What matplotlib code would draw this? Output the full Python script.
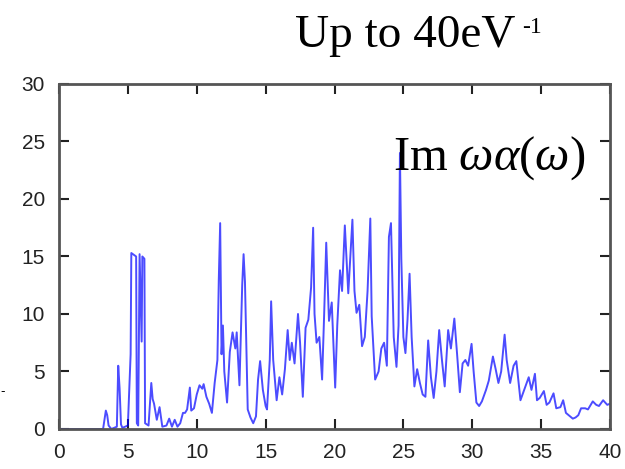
import matplotlib
matplotlib.use("Agg")
from matplotlib import pyplot as plt

# spectrum (energy in eV, Im w*alpha(w))
energy = [0, 3.2, 3.4, 3.5, 3.6, 3.8, 4.2, 4.3, 4.4, 4.5, 4.6, 5.0,
          5.2, 5.25, 5.6, 5.65, 5.75, 5.85, 6.0, 6.05, 6.2, 6.25, 6.5, 6.7,
          6.8, 6.9, 7.1, 7.3, 7.5, 7.8, 8.0, 8.2, 8.4, 8.6, 8.8, 9.0,
          9.15, 9.3, 9.5, 9.6, 9.8, 10.0, 10.2, 10.4, 10.5, 10.7, 10.9, 11.1,
          11.3, 11.5, 11.6, 11.7, 11.8, 11.9, 12.0, 12.2, 12.4, 12.6, 12.8, 12.9,
          13.1, 13.3, 13.4, 13.5, 13.7, 13.9, 14.1, 14.3, 14.45, 14.6, 14.8, 15.0,
          15.1, 15.3, 15.4, 15.55, 15.8, 16.0, 16.2, 16.4, 16.6, 16.75, 16.9, 17.1,
          17.35, 17.5, 17.7, 17.9, 18.1, 18.3, 18.45, 18.55, 18.7, 18.9, 19.1, 19.25,
          19.4, 19.6, 19.8, 20.05, 20.2, 20.4, 20.55, 20.75, 21.0, 21.15, 21.3, 21.45,
          21.6, 21.8, 22.0, 22.2, 22.4, 22.6, 22.7, 22.95, 23.2, 23.4, 23.6, 23.8,
          23.95, 24.1, 24.3, 24.5, 24.65, 24.75, 24.85, 25.0, 25.15, 25.3, 25.45, 25.6,
          25.8, 26.0, 26.2, 26.4, 26.6, 26.8, 27.0, 27.2, 27.4, 27.6, 27.8, 28.0,
          28.25, 28.45, 28.7, 28.9, 29.1, 29.3, 29.5, 29.7, 29.95, 30.1, 30.3, 30.5,
          30.7, 31.0, 31.2, 31.5, 31.7, 31.9, 32.1, 32.35, 32.5, 32.75, 33.0, 33.2,
          33.5, 33.8, 34.1, 34.3, 34.55, 34.7, 34.9, 35.2, 35.4, 35.6, 35.9, 36.1,
          36.4, 36.6, 36.8, 37.0, 37.3, 37.5, 37.7, 37.9, 38.2, 38.4, 38.75, 39.0,
          39.2, 39.5, 39.8, 40.0]
im_wa = [0, 0, 1.6, 1.2, 0.3, 0, 0.2, 5.5, 3.5, 0.4, 0.1, 0.3,
         6.5, 15.3, 15.0, 0.5, 0.3, 15.2, 7.6, 15.0, 14.8, 0.5, 0.3, 4.0,
         2.6, 2.2, 0.8, 1.9, 0.2, 0.3, 0.9, 0.2, 0.8, 0.2, 0.5, 1.4,
         1.4, 1.7, 3.6, 1.6, 1.8, 3.0, 3.8, 3.5, 3.9, 2.8, 2.2, 1.4,
         4.0, 6.0, 13.0, 17.9, 6.5, 9.0, 5.0, 2.3, 6.7, 8.4, 7.0, 8.4,
         3.8, 12.5, 15.2, 12.8, 1.7, 1.0, 0.5, 1.1, 4.3, 5.9, 3.4, 2.0,
         1.7, 6.0, 11.1, 6.0, 2.5, 4.5, 3.0, 5.2, 8.6, 6.0, 7.5, 5.7,
         10.0, 7.5, 2.8, 8.8, 9.5, 12.3, 17.5, 10.0, 7.5, 8.0, 4.3, 10.0,
         16.2, 9.4, 11.0, 3.6, 9.0, 13.8, 12.0, 17.7, 11.8, 15.0, 18.2, 12.0,
         10.1, 10.8, 7.2, 8.0, 12.0, 18.3, 9.8, 4.3, 5.0, 7.0, 7.5, 5.5,
         16.7, 17.9, 8.0, 5.4, 9.0, 24.0, 14.8, 8.0, 6.6, 9.5, 13.5, 8.0,
         3.7, 5.2, 4.0, 3.0, 2.8, 7.7, 4.5, 2.7, 5.0, 8.6, 6.0, 3.7,
         8.6, 7.0, 9.6, 6.5, 3.2, 5.7, 6.0, 5.5, 7.4, 5.0, 2.3, 2.0,
         2.4, 3.4, 4.2, 6.3, 5.2, 4.0, 5.0, 8.2, 6.0, 4.0, 5.5, 5.9,
         2.5, 3.5, 4.5, 3.4, 4.8, 2.5, 2.7, 3.3, 2.1, 2.3, 3.1, 1.8,
         1.9, 2.5, 1.4, 1.2, 0.9, 1.0, 1.2, 1.8, 1.8, 1.7, 2.4, 2.1,
         2.0, 2.5, 2.1, 2.2]

xticks = [0, 5, 10, 15, 20, 25, 30, 35, 40]
yticks = [0, 5, 10, 15, 20, 25, 30]

plt.rcParams['mathtext.fontset'] = 'custom'
plt.rcParams['mathtext.rm'] = 'Liberation Serif'
plt.rcParams['mathtext.it'] = 'Liberation Serif:italic'

fig = plt.figure(figsize=(6.25, 4.69), dpi=100)
ax = fig.add_axes([0.0944, 0.0853, 0.8816, 0.7357])

ax.plot(energy, im_wa, color='blue', lw=1.4, alpha=0.7)

ax.set_xlim(0, 40)
ax.set_ylim(0, 30)
ax.set_xticks(xticks)
ax.set_yticks(yticks)
ax.tick_params(direction='in', length=7, width=1.5, top=True, right=True,
               labelsize=15, colors='#222222', pad=10)
for lab in ax.get_xticklabels() + ax.get_yticklabels():
    lab.set_family('Liberation Sans')
for s in ax.spines.values():
    s.set_linewidth(2)
    s.set_color('#555555')

# texts around the plot
fig.text(0.472, 0.9004, "Up to 40eV", family='Liberation Serif', fontsize=34,
         va='baseline', ha='left')
fig.text(0.836, 0.9296, "-1", family='Liberation Serif', fontsize=17,
         va='baseline', ha='left')
fig.text(0.629, 0.6375, r"Im$\ \omega\alpha(\omega)$", family='Liberation Serif',
         fontsize=35, va='baseline', ha='left')
fig.text(0.0, 1 - 392 / 469, "-", fontsize=9, va='center', ha='left')

fig.savefig("out.png", dpi=100)
